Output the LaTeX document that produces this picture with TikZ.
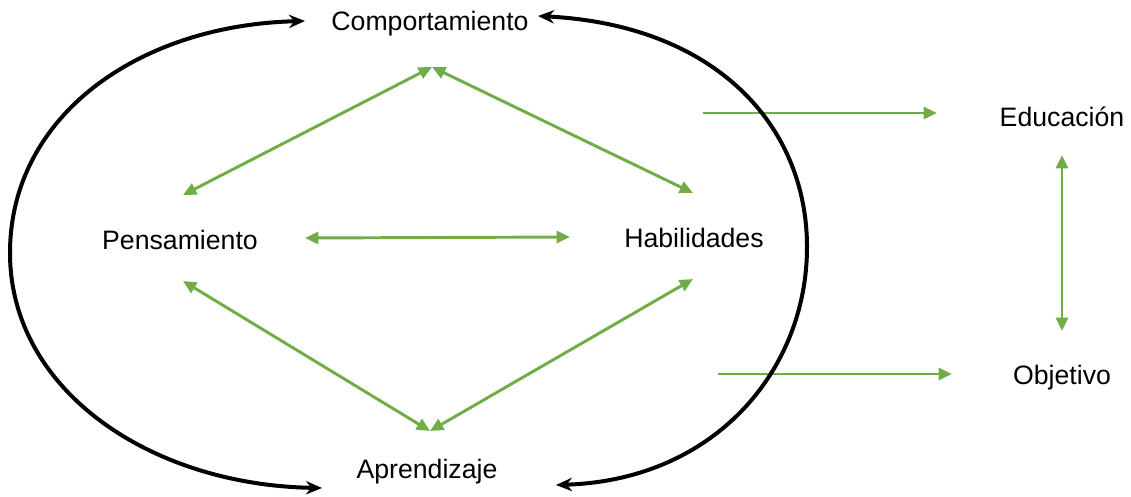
\documentclass[tikz,border=0pt]{standalone}
\usepackage{fontspec}
\setmainfont{Liberation Sans}
\usetikzlibrary{arrows.meta}
\definecolor{leaf}{RGB}{112,173,71}

\begin{document}
\begin{tikzpicture}[x=0.75pt,y=-0.75pt,
  every node/.style={font=\fontsize{20}{24}\selectfont,inner sep=2pt},
  link/.style={leaf,line width=2.2pt,{Triangle[length=10pt,width=9pt]}-{Triangle[length=10pt,width=9pt]}},
  push/.style={leaf,line width=2.2pt,-{Triangle[length=10pt,width=9pt]}},
  loopline/.style={black,line width=3pt,{Stealth[length=12pt,width=10pt]}-{Stealth[length=12pt,width=10pt]}}]
  \useasboundingbox (0,0) rectangle (1131,496);
  \node (comp) at (430, 24) {Comportamiento};
  \node (pens) at (180, 240) {Pensamiento};
  \node (hab) at (694, 238) {Habilidades};
  \node (apr) at (427, 472) {Aprendizaje};
  \node (edu) at (1062, 117) {Educación};
  \node (obj) at (1062, 378) {Objetivo};
  \coordinate (comp-s) at (432, 67);
  \coordinate (pens-n) at (183, 195);
  \coordinate (pens-e) at (305, 238);
  \coordinate (pens-s) at (183, 281);
  \coordinate (hab-n) at (693, 193);
  \coordinate (hab-w) at (570, 237);
  \coordinate (hab-s) at (693, 279);
  \coordinate (apr-n) at (430, 431);
  \coordinate (comp-w) at (305, 21);
  \coordinate (comp-e) at (538, 16);
  \coordinate (apr-w) at (322, 488);
  \coordinate (apr-e) at (556, 485);
  \coordinate (edu-w) at (937, 113);
  \coordinate (obj-w) at (952, 374);
  \coordinate (edu-s) at (1062, 155);
  \coordinate (obj-n) at (1062, 331);
  \coordinate (tail1) at (703, 113);
  \coordinate (tail2) at (718, 374);
  \draw [link] (comp-s) to (pens-n);
  \draw [link] (comp-s) to (hab-n);
  \draw [link] (pens-e) to (hab-w);
  \draw [link] (pens-s) to (apr-n);
  \draw [link] (hab-s) to (apr-n);
  \draw [link] (edu-s) to (obj-n);
  \draw [push] (tail1) to (edu-w);
  \draw [push] (tail2) to (obj-w);
  \draw [loopline] (comp-w) .. controls (140,25) and (10,115) .. (10,253)
    .. controls (10,390) and (150,485) .. (apr-w);
  \draw [loopline] (comp-e) .. controls (715,25) and (807,125) .. (807,247)
    .. controls (807,370) and (715,480) .. (apr-e);
\end{tikzpicture}
\end{document}
